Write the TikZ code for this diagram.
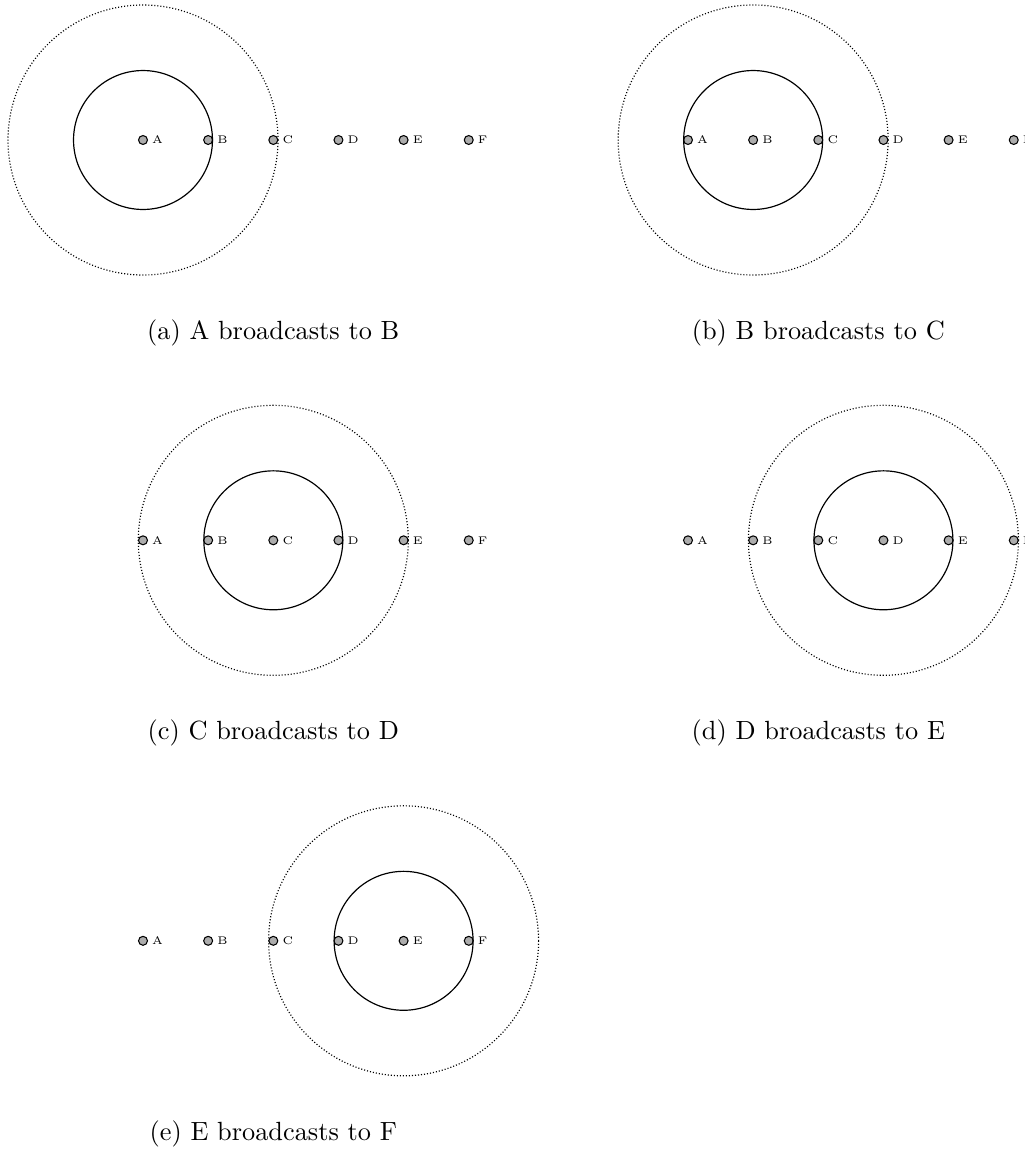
\documentclass[tikz,border=0pt]{standalone}
\begin{document}
\begin{tikzpicture}[x=0.38pt,y=-0.38pt,
  dot/.style={circle, draw=black, fill=gray!65, line width=0.4pt, minimum size=3.4pt, inner sep=0pt},
  lbl/.style={font=\fontsize{4.2}{5}\selectfont, anchor=west, inner sep=0pt},
  rangecirc/.style={line width=0.45pt},
  reachcirc/.style={line width=0.45pt, dash pattern=on 0.4pt off 0.75pt},
  captext/.style={font=\normalsize, inner sep=0pt}]
\useasboundingbox (0,0) rectangle (1025,1153);
\clip (0,0) rectangle (1025,1153);
\foreach \s/\ox/\oy/\cn/\t in {a/143/140/A/{A broadcasts to B},
                               b/688/140/B/{B broadcasts to C},
                               c/143/540.3/C/{C broadcasts to D},
                               d/688/540.3/D/{D broadcasts to E},
                               e/143/940.8/E/{E broadcasts to F}} {
  \foreach \n [count=\i from 0] in {A,B,C,D,E,F} {
    \node[dot] (\s-\n) at ({\ox+65.15*\i},\oy) {};
    \node[lbl] (\s-\n-lbl) at ([xshift=1.4pt]\s-\n.east) {\n};
  }
  \draw[rangecirc] (\s-\cn) circle[radius=26.4pt];
  \draw[reachcirc] (\s-\cn) circle[radius=51.3pt];
  \node[captext] (\s-cap) at ({\ox+130.3},{\oy+193}) {(\s) \t};
}
\end{tikzpicture}
\end{document}
